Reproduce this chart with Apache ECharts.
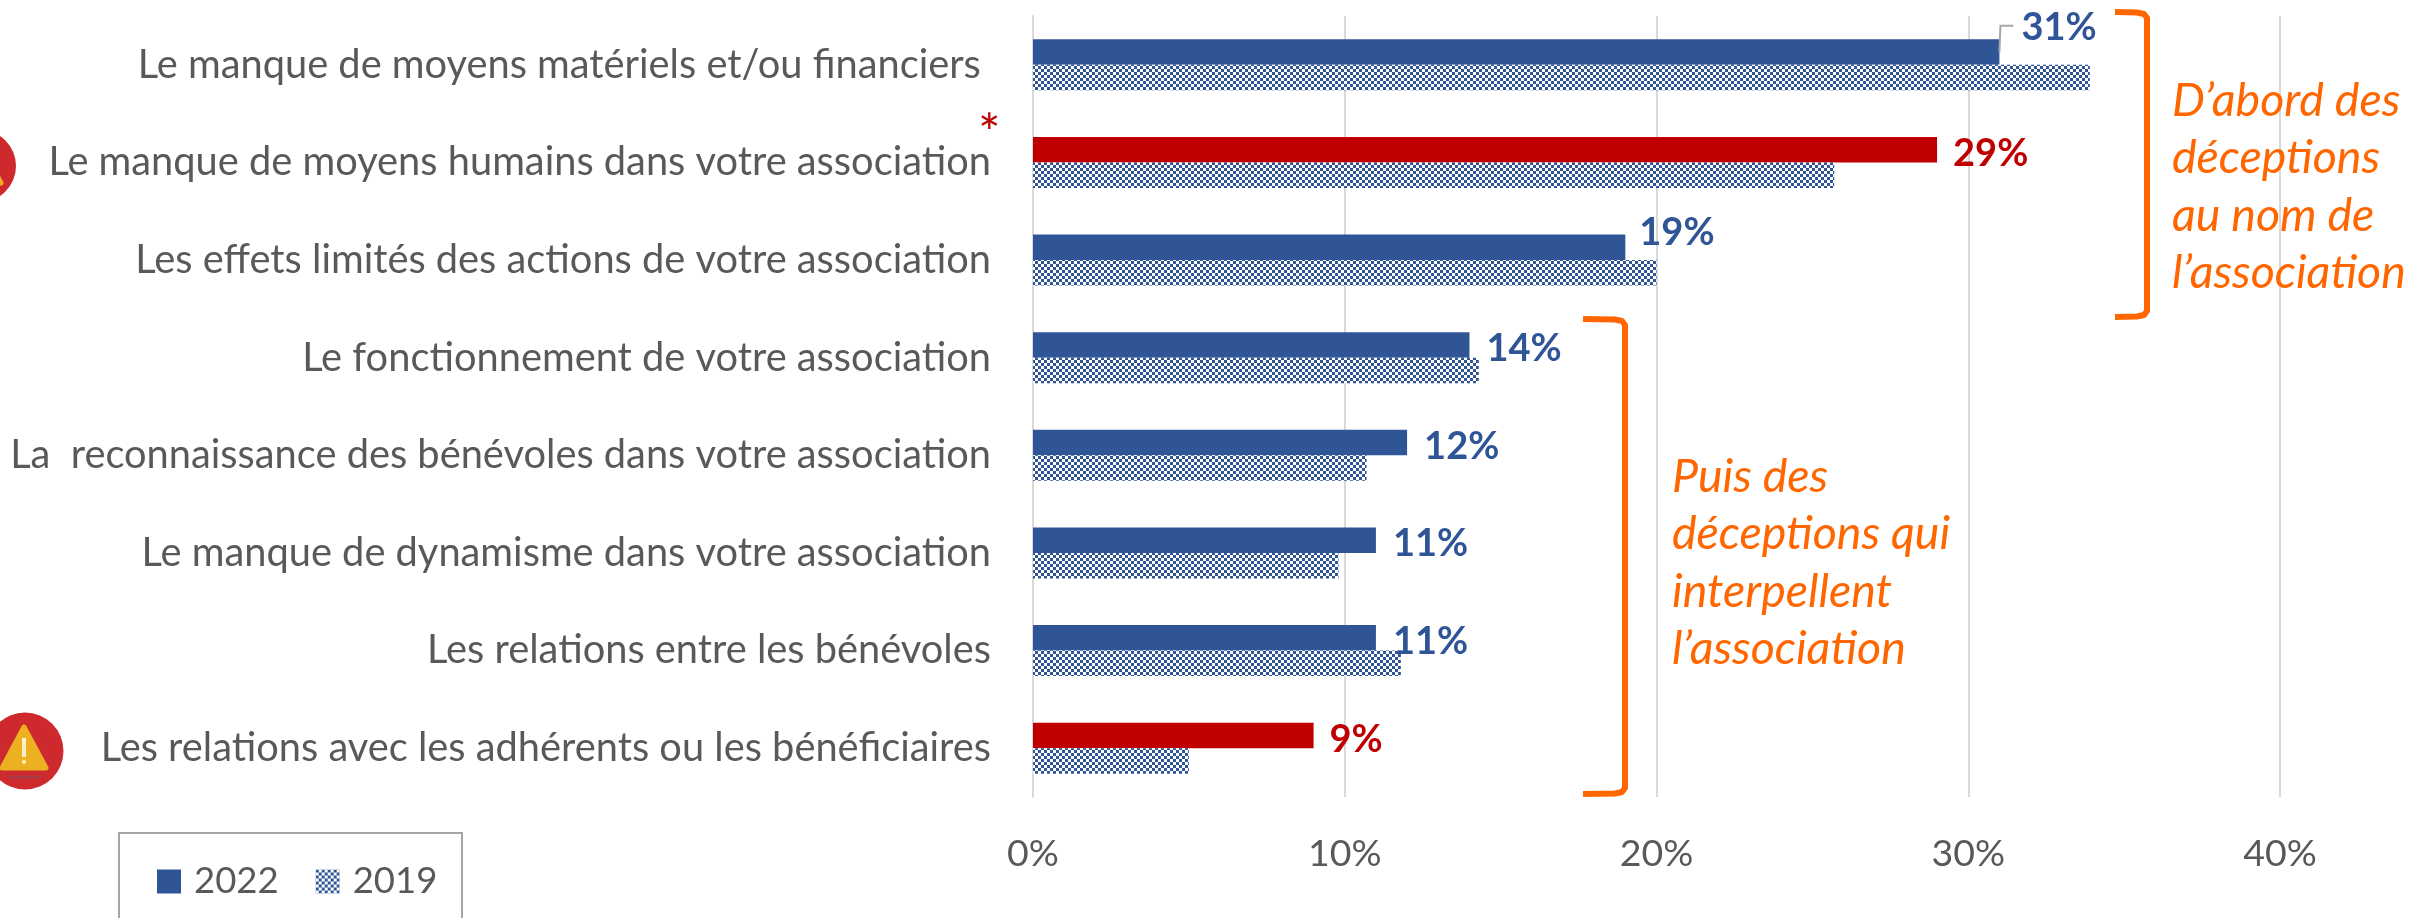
<!DOCTYPE html>
<html>
<head>
<meta charset="utf-8">
<style>
  html, body { margin: 0; padding: 0; background: #fff; }
  #chart { width: 2412px; height: 918px; }
</style>
<script src="https://cdn.jsdelivr.net/npm/echarts@6/dist/echarts.min.js"></script>
</head>
<body>
<div id="chart"></div>
<script>
const categories = [
  'Le manque de moyens matériels et/ou financiers ',
  'Le manque de moyens humains dans votre association',
  'Les effets limités des actions de votre association',
  'Le fonctionnement de votre association',
  'La  reconnaissance des bénévoles dans votre association',
  'Le manque de dynamisme dans votre association',
  'Les relations entre les bénévoles',
  'Les relations avec les adhérents ou les bénéficiaires'
]
const values2022 = [31, 29, 19, 14, 12, 11, 11, 9]
const values2019 = [33.9, 25.7, 20, 14.3, 10.7, 9.8, 11.8, 5]
const seriesNames = ['2022', '2019']
const xTicks = [0, 10, 20, 30, 40]

const BLUE = '#2F5597'
const RED = '#C00000'
const ORANGE = '#FF6600'
const GREY = '#595959'
const FONT = 'Lato'

// rows highlighted in red in the 2022 series
const redRows = [1, 7]
// hand placed data labels, as in the original
const labelShift = { 0: [6, -24], 2: [-2, -15], 1: [0, 4], 3: [1, 4], 4: [1, 4], 5: [1, 4], 6: [1, 4], 7: [0, 4] }

function checker() {
  const c = document.createElement('canvas')
  c.width = 6
  c.height = 6
  const ctx = c.getContext('2d')
  ctx.fillStyle = '#fff'
  ctx.fillRect(0, 0, 6, 6)
  ctx.fillStyle = BLUE
  ctx.fillRect(0, 0, 3, 3)
  ctx.fillRect(3, 3, 3, 3)
  return { image: c, repeat: 'repeat' }
}

function bracket(left, right, top, bottom) {
  return {
    type: 'polyline',
    z: 10,
    shape: {
      points: [
        [left, top], [right - 10, top + 0.5], [right - 3, top + 2], [right, top + 6],
        [right, bottom - 6], [right - 3, bottom - 2], [right - 10, bottom - 0.5], [left, bottom]
      ]
    },
    style: { stroke: ORANGE, lineWidth: 6, fill: null, lineJoin: 'round' }
  }
}

function note(x, y, text) {
  return {
    type: 'text',
    z: 10,
    x: x,
    y: y,
    style: {
      text: text,
      fill: ORANGE,
      font: 'italic 46.5px ' + FONT,
      lineHeight: 57.5,
      textVerticalAlign: 'top'
    }
  }
}

function warning(cx, cy, r) {
  return [
    { type: 'circle', z: 10, shape: { cx: cx, cy: cy, r: r }, style: { fill: '#CE2A2D' } },
    {
      type: 'polygon', z: 11,
      shape: { points: [[cx - 1, cy - 24], [cx + 21, cy + 17], [cx - 23, cy + 17]] },
      style: { fill: '#EDB021', stroke: '#EDB021', lineWidth: 5, lineJoin: 'round' }
    },
    { type: 'line', z: 12, shape: { x1: cx - 1, y1: cy - 13, x2: cx - 1, y2: cy + 6 }, style: { stroke: '#FBEFC8', lineWidth: 4 } },
    { type: 'circle', z: 12, shape: { cx: cx - 1, cy: cy + 11, r: 2 }, style: { fill: '#FBEFC8' } },
    { type: 'line', z: 11, shape: { x1: cx - 16, y1: cy + 26, x2: cx + 16, y2: cy + 26 }, style: { stroke: '#A83A45', lineWidth: 3 } }
  ]
}

const chart = echarts.init(document.getElementById('chart'), null, { renderer: 'canvas' })

chart.setOption({
  animation: false,
  backgroundColor: '#fff',
  textStyle: { fontFamily: FONT },
  grid: { left: 1033, top: 16, width: 1247, height: 781 },
  legend: {
    data: seriesNames,
    left: 152,
    top: 858,
    itemWidth: 24,
    itemHeight: 24,
    itemGap: 37,
    icon: 'rect',
    textStyle: { color: GREY, fontSize: 36.5, fontFamily: FONT, padding: [0, 0, 0, 8] }
  },
  xAxis: {
    type: 'value',
    min: xTicks[0],
    max: xTicks[xTicks.length - 1],
    interval: 10,
    axisLine: { show: false },
    axisTick: { show: false },
    axisLabel: { formatter: '{value}%', color: GREY, fontSize: 37.5, margin: 38, fontFamily: FONT },
    splitLine: { lineStyle: { color: '#D9D9D9', width: 2 } }
  },
  yAxis: {
    type: 'category',
    inverse: true,
    data: categories,
    axisLine: { lineStyle: { color: '#D9D9D9', width: 2 } },
    axisTick: { show: false },
    axisLabel: { color: GREY, fontSize: 39.8, margin: 42, fontFamily: FONT }
  },
  series: [
    {
      name: seriesNames[0],
      type: 'bar',
      barWidth: 25.5,
      barGap: 0,
      itemStyle: { color: BLUE },
      data: values2022.map((v, i) => {
        const c = redRows.includes(i) ? RED : BLUE
        return {
          value: v,
          itemStyle: { color: c },
          label: {
            show: true,
            position: 'right',
            distance: 16,
            offset: labelShift[i],
            formatter: '{c}%',
            color: c,
            fontWeight: 'bold',
            fontSize: 38,
            fontFamily: FONT
          }
        }
      })
    },
    {
      name: seriesNames[1],
      type: 'bar',
      barWidth: 25.5,
      barGap: 0,
      itemStyle: { color: checker() },
      data: values2019
    }
  ]
})

// leader line of the first label, bracket annotations, legend frame and icons
const end = chart.convertToPixel({ xAxisIndex: 0, yAxisIndex: 0 }, [values2022[0], categories[0]])
chart.setOption({
  graphic: [
    {
      type: 'polyline', z: 10,
      shape: { points: [[end[0], end[1] - 13], [end[0] + 1, end[1] - 39], [end[0] + 14, end[1] - 39]] },
      style: { stroke: '#A6A6A6', lineWidth: 2, fill: null }
    },
    bracket(2115, 2147, 12, 317),
    bracket(1583, 1625, 319, 794),
    note(2172, 72, 'D’abord des\ndéceptions\nau nom de\nl’association'),
    note(1672, 448, 'Puis des\ndéceptions qui\ninterpellent\nl’association'),
    {
      type: 'text', z: 10, x: 978, y: 108,
      style: { text: '*', fill: RED, font: '53px ' + FONT }
    },
    {
      type: 'rect', z: 1,
      shape: { x: 119, y: 833, width: 343, height: 120 },
      style: { fill: null, stroke: '#A6A6A6', lineWidth: 2 }
    },
    ...warning(-20, 166, 36),
    ...warning(25, 751, 38.5)
  ]
})
</script>
</body>
</html>
